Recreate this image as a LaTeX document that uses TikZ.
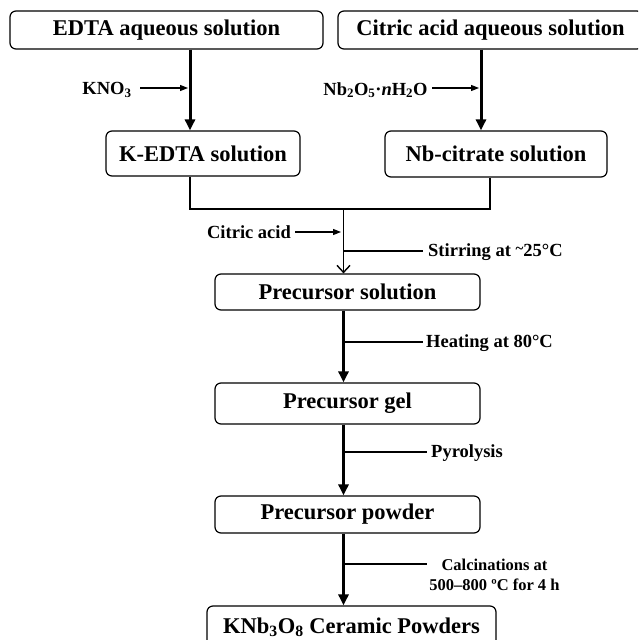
\documentclass[tikz,border=0pt]{standalone}
\usepackage{fontspec}
\setmainfont{Liberation Serif}
\usetikzlibrary{arrows.meta}
\begin{document}
\begin{tikzpicture}[x=1pt,y=-1pt,
  box/.style={draw, rounded corners=6pt, line width=1.2pt, inner sep=0pt,
    font=\fontsize{22.5}{26}\selectfont\bfseries},
  lbl/.style={inner sep=0pt, font=\fontsize{18.5}{22}\selectfont\bfseries},
  small/.style={inner sep=0pt, font=\fontsize{16.5}{20}\selectfont\bfseries, align=center},
  thickarrow/.style={line width=3pt, -{Triangle[length=11pt,width=10pt]}},
  thinarrow/.style={line width=1.4pt, -{Straight Barb[length=7pt,width=13pt,line width=1.4pt]}},
  feed/.style={line width=1.2pt, -{Triangle[length=8pt,width=6pt]}},
  thinline/.style={line width=1.3pt},
  leader/.style={line width=1.2pt}
]
\useasboundingbox (0,0) rectangle (638,640);
\begin{scope}
\clip (0,0) rectangle (638,640);
% boxes
\node[box, minimum width=313pt, minimum height=38pt] (edta) at (166.5,30) {EDTA aqueous solution};
\node[box, minimum width=305pt, minimum height=38pt] (cit) at (490.5,30) {Citric acid aqueous solution};
\node[box, minimum width=194pt, minimum height=45pt] (kedta) at (203,153.5) {K-EDTA solution};
\node[box, minimum width=222pt, minimum height=46pt] (nbcit) at (496,154) {Nb-citrate solution};
\node[box, minimum width=265pt, minimum height=36pt] (psol) at (347.5,292) {Precursor solution};
\node[box, minimum width=265pt, minimum height=41pt] (pgel) at (347.5,403.5) {Precursor gel};
\node[box, minimum width=265pt, minimum height=37pt] (ppow) at (347.5,514.5) {Precursor powder};
\node[box, minimum width=289pt, minimum height=42pt] (final) at (351.5,627) {KNb\textsubscript{3}O\textsubscript{8} Ceramic Powders};

% guide coordinates
\coordinate (xl) at (190,0);
\coordinate (xr) at (481,0);
\coordinate (xnb) at (490,0);
\coordinate (xc) at (343.5,0);
\coordinate (join) at (343.5,209);

% top arrows
\draw[thickarrow] (edta.south -| xl) -- (kedta.north -| xl);
\draw[thickarrow] (cit.south -| xr) -- (nbcit.north -| xr);

% feeds
\node[lbl] (kno) at (107,90) {KNO\textsubscript{3}};
\coordinate (kstart) at (140,88);
\coordinate (kend) at (188,88);
\draw[feed] (kstart) -- (kend);
\node[lbl] (nbo) at (375.5,90) {Nb\textsubscript{2}O\textsubscript{5}·\textit{n}H\textsubscript{2}O};
\coordinate (nstart) at (432,88);
\coordinate (nend) at (479,88);
\draw[feed] (nstart) -- (nend);

% merge
\draw[thinline] (kedta.south -| xl) -- (join -| xl) -- (join -| xnb) -- (nbcit.south -| xnb);
\draw[thinarrow] (join) -- (psol.north -| xc);

\node[lbl] (ca) at (249,232) {Citric acid};
\coordinate (castart) at (295,232);
\coordinate (caend) at (341,232);
\draw[feed] (castart) -- (caend);

\coordinate (s1) at (343.5,251);
\node[lbl, anchor=west] (stir) at (428,252) {Stirring at \raisebox{0.35ex}{\fontsize{15}{15}\selectfont\textasciitilde}25°C};
\draw[leader] (s1) -- ([xshift=-5pt]stir.west |- s1);

% lower steps
\draw[thickarrow] (psol.south -| xc) -- (pgel.north -| xc);
\coordinate (s2) at (343.5,342);
\node[lbl, anchor=west] (heat) at (426,343) {Heating at 80°C};
\draw[leader] (s2) -- ([xshift=-3pt]heat.west |- s2);

\draw[thickarrow] (pgel.south -| xc) -- (ppow.north -| xc);
\coordinate (s3) at (343.5,452);
\node[lbl, anchor=west] (pyro) at (431,453) {Pyrolysis};
\draw[leader] (s3) -- ([xshift=-4pt]pyro.west |- s3);

\draw[thickarrow] (ppow.south -| xc) -- (final.north -| xc);
\coordinate (s4) at (343.5,564);
\coordinate (s4e) at (427,564);
\node[small] (calc) at (494.5,575) {Calcinations at\\500–800 ºC for 4 h};
\draw[leader] (s4) -- (s4e);
\end{scope}
\end{tikzpicture}
\end{document}
